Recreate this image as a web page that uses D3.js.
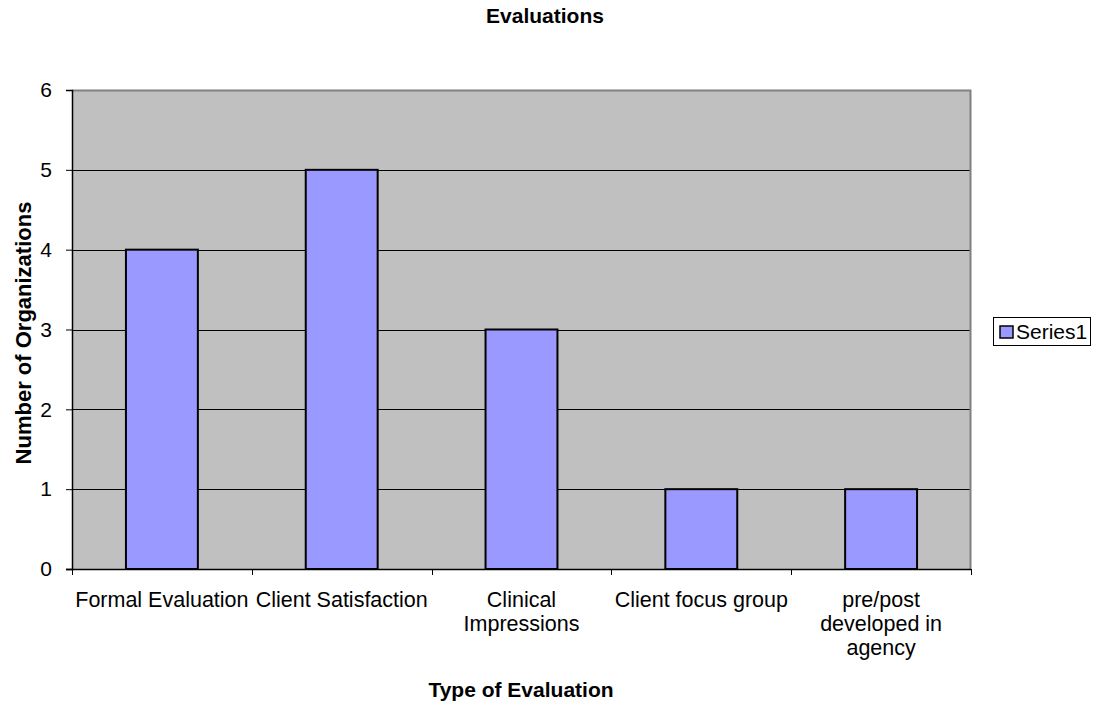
<!DOCTYPE html>
<html>
<head>
<meta charset="utf-8">
<script src="https://cdn.jsdelivr.net/npm/d3@7"></script>
<style>
  html, body { margin: 0; padding: 0; background: #fff; }
  svg { display: block; font-family: "Liberation Sans", Arial, sans-serif; }
</style>
</head>
<body>
<svg id="chart" width="1101" height="706"></svg>
<script>
// Evaluation types and how many organizations use each
const categories = [
  "Formal Evaluation",
  "Client Satisfaction",
  "Clinical Impressions",
  "Client focus group",
  "pre/post developed in agency"
];
const series1 = [4, 5, 3, 1, 1];
const yTicks = [0, 1, 2, 3, 4, 5, 6];
const seriesName = "Series1";
const chartTitle = "Evaluations";
const xTitle = "Type of Evaluation";
const yTitle = "Number of Organizations";

const FONT = "21.5px";
const svg = d3.select("#chart");
const plot = { left: 72, right: 971, top: 90, bottom: 569 };

const x = d3.scaleBand()
  .domain(categories)
  .range([plot.left, plot.right])
  .paddingInner(0.6)
  .paddingOuter(0.3);

const y = d3.scaleLinear()
  .domain([0, 6])
  .range([plot.bottom, plot.top]);

// plot background
svg.append("rect")
  .attr("x", plot.left).attr("y", plot.top)
  .attr("width", plot.right - plot.left)
  .attr("height", plot.bottom - plot.top)
  .attr("fill", "#c0c0c0");

// horizontal gridlines
svg.append("g")
  .selectAll("line")
  .data(yTicks.filter(d => d > 0 && d < 6))
  .join("line")
  .attr("x1", plot.left).attr("x2", plot.right)
  .attr("y1", d => Math.round(y(d)) + 0.5)
  .attr("y2", d => Math.round(y(d)) + 0.5)
  .attr("stroke", "#000").attr("stroke-width", 1);

// plot frame (top and right edges)
svg.append("path")
  .attr("d", `M${plot.left},${plot.top + 0.5}H${plot.right - 0.5}V${plot.bottom}`)
  .attr("fill", "none")
  .attr("stroke", "#808080")
  .attr("stroke-width", 2);

// bars
svg.append("g")
  .selectAll("rect")
  .data(categories.map((c, i) => ({ c, v: series1[i] })))
  .join("rect")
  .attr("x", d => x(d.c))
  .attr("y", d => y(d.v))
  .attr("width", x.bandwidth())
  .attr("height", d => y(0) - y(d.v))
  .attr("fill", "#9999ff")
  .attr("stroke", "#000")
  .attr("stroke-width", 2);

// y axis
const yAxis = d3.axisLeft(y)
  .tickValues(yTicks)
  .tickFormat(d3.format("d"))
  .tickSize(6)
  .tickPadding(14);
const gy = svg.append("g")
  .attr("transform", `translate(${plot.left},0)`)
  .call(yAxis);
gy.select(".domain").attr("stroke", "#000").attr("stroke-width", 1.5);
gy.selectAll(".tick line").attr("stroke", "#000");
gy.selectAll(".tick text")
  .attr("fill", "#000")
  .style("font-size", "21px")
  .style("font-family", "Liberation Sans, Arial, sans-serif");

// x axis: ticks on category boundaries
const boundaries = d3.range(categories.length + 1)
  .map(i => plot.left + i * x.step());
const gx = svg.append("g");
gx.append("line")
  .attr("x1", plot.left - 6).attr("x2", plot.right)
  .attr("y1", plot.bottom + 0.5).attr("y2", plot.bottom + 0.5)
  .attr("stroke", "#000").attr("stroke-width", 1.5);
gx.selectAll("line.tick")
  .data(boundaries)
  .join("line")
  .attr("class", "tick")
  .attr("x1", d => Math.round(d) + 0.5).attr("x2", d => Math.round(d) + 0.5)
  .attr("y1", plot.bottom).attr("y2", plot.bottom + 6)
  .attr("stroke", "#000");

// category labels, wrapped to the category width
function wrapLines(text, maxWidth, font) {
  const ctx = document.createElement("canvas").getContext("2d");
  ctx.font = `${font} "Liberation Sans", Arial, sans-serif`;
  const words = text.split(" ");
  const lines = [];
  let cur = "";
  for (const w of words) {
    const t = cur ? cur + " " + w : w;
    if (ctx.measureText(t).width > maxWidth && cur) {
      lines.push(cur);
      cur = w;
    } else {
      cur = t;
    }
  }
  if (cur) lines.push(cur);
  return lines;
}

const labels = svg.append("g")
  .style("font-size", FONT)
  .attr("fill", "#000")
  .attr("text-anchor", "middle");
categories.forEach(c => {
  const cx = x(c) + x.bandwidth() / 2;
  const lines = wrapLines(c, 176, FONT);
  const t = labels.append("text").attr("x", cx).attr("y", 607);
  lines.forEach((ln, i) => {
    t.append("tspan").attr("x", cx).attr("dy", i === 0 ? 0 : 24).text(ln);
  });
});

// titles
svg.append("text")
  .attr("x", 545).attr("y", 23)
  .attr("text-anchor", "middle")
  .style("font-size", "21px").attr("font-weight", "bold")
  .text(chartTitle);

svg.append("text")
  .attr("x", 521).attr("y", 697)
  .attr("text-anchor", "middle")
  .style("font-size", "21px").attr("font-weight", "bold")
  .text(xTitle);

svg.append("text")
  .attr("transform", `translate(31,333) rotate(-90)`)
  .attr("text-anchor", "middle")
  .style("font-size", "22px").attr("font-weight", "bold")
  .text(yTitle);

// legend
const legend = svg.append("g");
legend.append("rect")
  .attr("x", 993.5).attr("y", 317.5)
  .attr("width", 97).attr("height", 28)
  .attr("fill", "#fff").attr("stroke", "#000").attr("stroke-width", 1);
legend.append("rect")
  .attr("x", 1000).attr("y", 326)
  .attr("width", 13).attr("height", 12)
  .attr("fill", "#9999ff").attr("stroke", "#000").attr("stroke-width", 1.5);
legend.append("text")
  .attr("x", 1016).attr("y", 339)
  .style("font-size", "21px")
  .text(seriesName);
</script>
</body>
</html>
